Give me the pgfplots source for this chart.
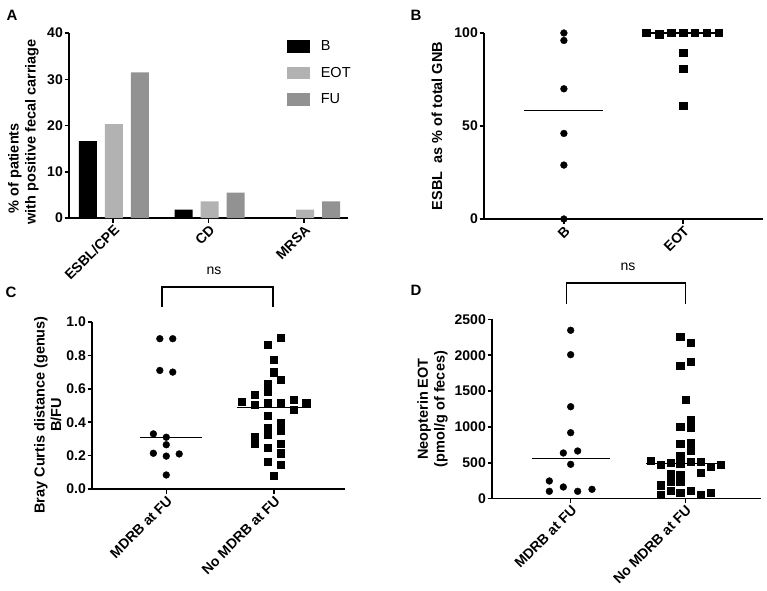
\documentclass[border=0pt]{standalone}
\usepackage{fontspec}
\setmainfont{Liberation Sans}[BoldFont={Liberation Sans Bold}]
\usepackage{pgfplots}
\pgfplotsset{compat=1.18}
\definecolor{eotgray}{RGB}{178,178,178}
\definecolor{fugray}{RGB}{146,146,146}
\pgfplotsset{
 panel/.style={
  scale only axis,
  axis x line=bottom, axis y line=left,
  axis line style={line width=1.5pt,-},
  every tick/.style={line width=1.5pt,black},
  major tick length=4.5pt,
  tick align=outside,
  /pgf/number format/assume math mode=true,
  /pgf/number format/1000 sep={},
  tick label style={font=\fontsize{14}{16}\selectfont\bfseries},
  xticklabel style={rotate=45, anchor=north east, inner sep=1pt},
  yticklabel style={inner sep=1.5pt},
  enlargelimits=false,
  clip=false,
 },
 dots/.style={only marks, mark=*, mark size=3.4pt, black},
 sqs/.style={only marks, mark=square*, mark size=3.6pt, black},
 med/.style={black, line width=1.1pt, no marks},
}
\tikzset{ylab/.style={font=\fontsize{14.5}{17}\selectfont\bfseries, rotate=90, anchor=center}}
\begin{document}
\begin{tikzpicture}
\useasboundingbox (0,0) rectangle (767pt,590pt);
% panel letters
\node[font=\fontsize{15}{17}\selectfont\bfseries] at (12pt,575pt) {A};
\node[font=\fontsize{15}{17}\selectfont\bfseries] at (416pt,575pt) {B};
\node[font=\fontsize{15}{17}\selectfont\bfseries] at (11pt,298pt) {C};
\node[font=\fontsize{15}{17}\selectfont\bfseries] at (416pt,300pt) {D};

% y labels as rotated nodes
\node[ylab, anchor=west] at (15pt,373pt) {\% of patients};
\node[ylab, anchor=west] at (32pt,362pt) {with positive fecal carriage};
\node[ylab] at (437pt,464pt) {ESBL\ \ as \% of total GNB};
\node[ylab] at (41pt,175pt) {Bray Curtis distance (genus)};
\node[ylab] at (56pt,175pt) {B/FU};
\node[ylab] at (424pt,181pt) {Neopterin EOT};
\node[ylab] at (441pt,181pt) {(pmol/g of feces)};

% ---------------- A ----------------
\begin{axis}[panel,
  at={(69pt,372pt)}, anchor=south west,
  width=279pt, height=185pt,
  xmin=-0.46, xmax=2.46, ymin=0, ymax=40,
  ytick={0,10,20,30,40},
  xtick={0,1,2}, xticklabels={ESBL/CPE,CD,MRSA},
  legend style={at={(0.78,0.97)}, anchor=north west, draw=none, fill=none,
    font=\fontsize{14.5}{16}\selectfont, inner sep=0pt,
    /tikz/row sep=11pt,
    /tikz/every odd column/.append style={column sep=9pt}},
  legend cell align=left,
  legend image code/.code={\draw[#1,draw=none] (0pt,-6.3pt) rectangle (23pt,6.3pt);},
]
\addplot[ybar, bar width=18pt, bar shift=-25pt, fill=black, draw=none] coordinates {(0,16.6) (1,1.8) (2,0)};
\addplot[ybar, bar width=18pt, bar shift=1pt, fill=eotgray, draw=none] coordinates {(0,20.3) (1,3.6) (2,1.8)};
\addplot[ybar, bar width=18pt, bar shift=27pt, fill=fugray, draw=none] coordinates {(0,31.5) (1,5.5) (2,3.6)};
\legend{B,EOT,FU}
\end{axis}

% ---------------- B ----------------
\begin{axis}[panel,
  at={(484pt,371pt)}, anchor=south west,
  width=279pt, height=186pt,
  xmin=-0.67, xmax=1.67, ymin=0, ymax=100,
  ytick={0,50,100},
  xtick={0,1}, xticklabels={B,EOT},
]
\addplot[med] coordinates {(-0.336,58.2) (0.328,58.2)};
\addplot[med] coordinates {(0.67,100) (1.33,100)};
\addplot[dots] coordinates {(0,100) (0,96) (0,70) (0,46) (0,29) (0,0)};
\addplot[sqs] coordinates {(0.69,100) (0.80,99.3) (0.90,100) (1,100) (1.10,100) (1.20,100) (1.30,100) (1,89.2) (1,81) (1,61)};
\end{axis}

% ---------------- C ----------------
\begin{axis}[panel,
  at={(92pt,101pt)}, anchor=south west,
  width=253pt, height=167pt,
  xmin=-0.69, xmax=1.66, ymin=0, ymax=1,
  ytick={0,0.2,0.4,0.6,0.8,1.0},
  yticklabel style={/pgf/number format/fixed, /pgf/number format/precision=1, /pgf/number format/fixed zerofill},
  xtick={0,1}, xticklabels={MDRB at FU,No MDRB at FU},
]
\addplot[med] coordinates {(-0.245,0.31) (0.33,0.31)};
\addplot[med] coordinates {(0.66,0.49) (1.34,0.49)};
\addplot[dots] coordinates {(-0.06,0.90) (0.06,0.90) (-0.06,0.71) (0.06,0.70) (-0.12,0.33) (0,0.31) (0,0.265) (-0.12,0.214) (0,0.197) (0.12,0.21) (0,0.084)};
\addplot[sqs] coordinates {
 (1.06,0.904) (0.94,0.866) (1,0.772) (1,0.699) (1.06,0.655) (0.94,0.629)
 (0.82,0.565) (0.94,0.581) (0.70,0.521) (0.82,0.505) (0.94,0.517) (1.06,0.517)
 (1.18,0.533) (1.30,0.515) (1.18,0.477) (0.94,0.437) (1.06,0.397) (0.94,0.369)
 (1.06,0.349) (0.94,0.325) (0.82,0.313) (0.82,0.269) (1.06,0.273) (0.94,0.247)
 (1.06,0.214) (0.94,0.164) (1.06,0.146) (1,0.078)};
\end{axis}

% ---------------- D ----------------
\begin{axis}[panel,
  at={(492pt,91.3pt)}, anchor=south west,
  width=269pt, height=179.4pt,
  xmin=-0.686, xmax=1.66, ymin=0, ymax=2500,
  ytick={0,500,1000,1500,2000,2500},
  xtick={0,1}, xticklabels={MDRB at FU,No MDRB at FU},
]
\addplot[med] coordinates {(-0.34,563) (0.34,563)};
\addplot[med] coordinates {(0.66,495) (1.33,495)};
\addplot[dots] coordinates {(0,2347) (0,2007) (0,1282) (0,920) (-0.064,637) (0.061,665) (0,479) (-0.186,247) (-0.186,103) (-0.064,163) (0.061,103) (0.186,131)};
\addplot[sqs] coordinates {
 (0.956,2257) (1.044,2174) (0.956,1853) (1.044,1909) (1,1375) (1.044,1106)
 (0.956,1003) (1.044,989) (0.956,762) (1.044,780) (1.044,665) (0.956,599)
 (0.70,530) (0.785,479) (0.872,507) (0.956,493) (1.044,516) (1.134,521)
 (1.22,446) (1.305,470) (1.134,362) (0.872,344) (0.956,334) (0.872,233)
 (0.956,233) (0.785,187) (0.785,61) (0.872,111) (0.956,89) (1.044,107)
 (1.134,52) (1.22,89)};
\end{axis}

% significance brackets
\draw[line width=1.5pt] (162pt,283pt) -- (162pt,303pt) -- (273pt,303pt) -- (273pt,283pt);
\node[font=\fontsize{14}{16}\selectfont] at (214pt,319pt) {ns};
\draw[line width=1.5pt] (566.7pt,286pt) -- (566.7pt,307pt) -- (685.7pt,307pt) -- (685.7pt,286pt);
\node[font=\fontsize{14}{16}\selectfont] at (628pt,323pt) {ns};
\end{tikzpicture}
\end{document}
